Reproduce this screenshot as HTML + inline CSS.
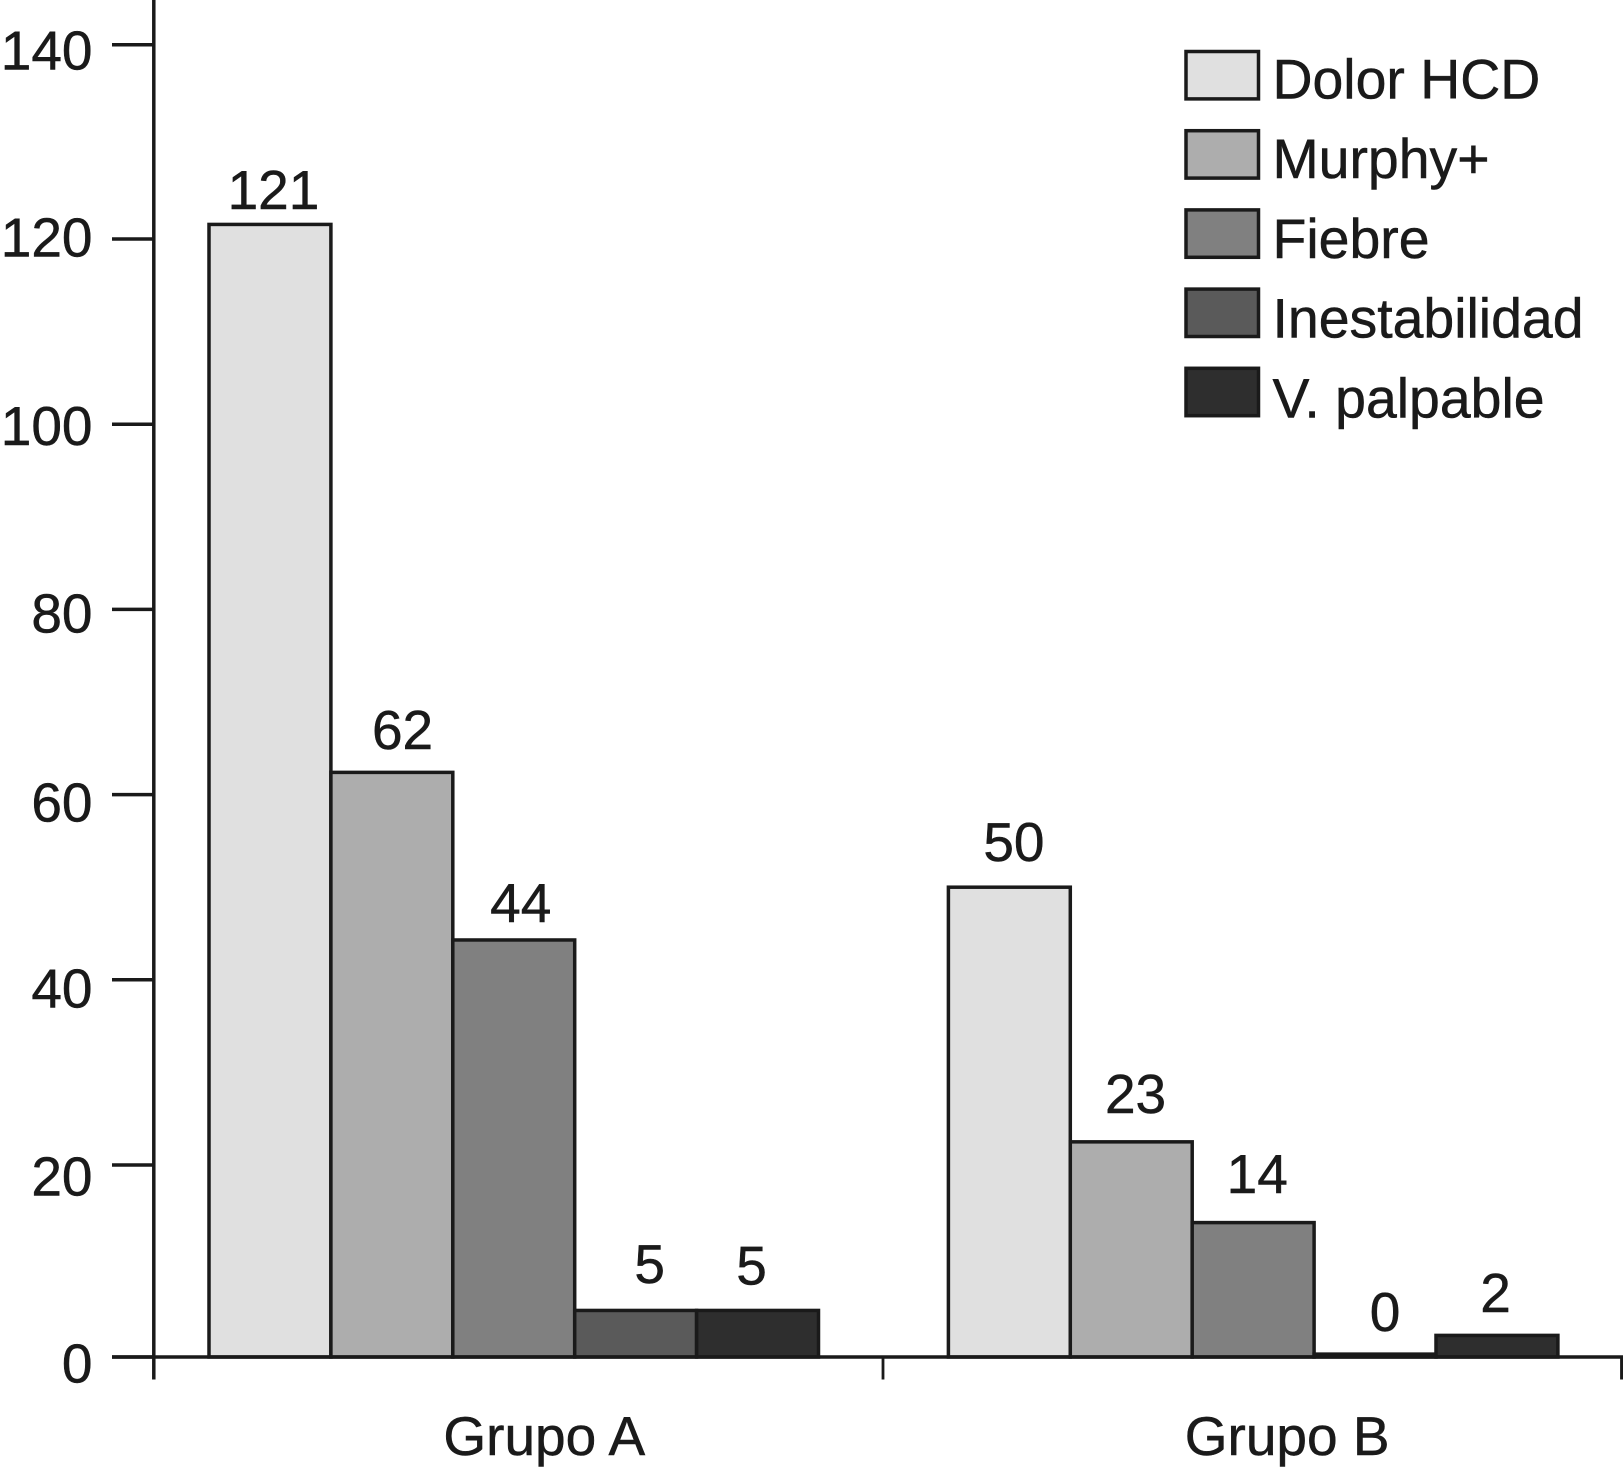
<!DOCTYPE html>
<html lang="es">
<head>
<meta charset="utf-8">
<title>Grupo A y Grupo B</title>
<style>
html,body{margin:0;padding:0;background:#fff;}
svg{display:block;}
text{font-family:"Liberation Sans",Arial,sans-serif;font-size:55px;fill:#1a1a1a;stroke:#1a1a1a;stroke-width:0.5px;}
</style>
</head>
<body>
<svg id="chart" xmlns="http://www.w3.org/2000/svg" width="1623" height="1473" viewBox="0 0 1623 1473"></svg>
<script>
// ---- chart data ----
const categories = ["Grupo A", "Grupo B"];
const seriesNames = ["Dolor HCD", "Murphy+", "Fiebre", "Inestabilidad", "V. palpable"];
const dolorHcdValues = [121.5, 50];
const murphyValues = [62.4, 22.5];
const fiebreValues = [44.3, 14];
const inestabilidadValues = [4.85, 0.3];
const vPalpableValues = [4.85, 2.25];
const printedDolorHcd = ["121", "50"];
const printedMurphy = ["62", "23"];
const printedFiebre = ["44", "14"];
const printedInestabilidad = ["5", "0"];
const printedVPalpable = ["5", "2"];
const yTicks = [0, 20, 40, 60, 80, 100, 120, 140];
const yTickLabels = ["0", "20", "40", "60", "80", "100", "120", "140"];

// ---- layout and style (not data) ----
const seriesValues = [dolorHcdValues, murphyValues, fiebreValues, inestabilidadValues, vPalpableValues];
const seriesPrinted = [printedDolorHcd, printedMurphy, printedFiebre, printedInestabilidad, printedVPalpable];
const INK = "#1a1a1a";
const LINE_W = 3.5;
const fills = { 0: "#e0e0e0", 1: "#adadad", 2: "#808080", 3: "#5a5a5a", 4: "#2e2e2e" };
const slugs = { 0: "dolor-hcd", 1: "murphy", 2: "fiebre", 3: "inestabilidad", 4: "v-palpable" };
const AXIS_X = 153.8, BASE_Y = 1357, TICK_BOTTOM = 1379.5;
const GROUP_A_START = 209, GROUP_B_START = 948.4, BAR_W = 121.9;
// the printed axis is slightly uneven at both ends, so the y scale has three segments
function yScale(v) {
  if (v <= 20) return BASE_Y - v * 9.6;
  if (v <= 120) return 1165 - (v - 20) * 9.26;
  return 239 - (v - 120) * 9.715;
}
function barX(group, series) { return (group === 0 ? GROUP_A_START : GROUP_B_START) + series * BAR_W; }
// hand placement of text in the original artwork: "group-series": [dx, dy]
const labelNudge = {
  "0-0": [3.5, -15.3], "0-1": [10.7, -23.3], "0-2": [7, -17.8], "0-3": [14, -27.2], "0-4": [-6, -26],
  "1-0": [4.6, -26.2], "1-1": [4.3, -28.8], "1-2": [4.1, -29.5], "1-3": [10, -23], "1-4": [-1.4, -23.5]
};
const tickLabelDy = { 0: 25.3, 20: 30.7, 40: 27.6, 60: 26.7, 80: 23, 100: 21, 120: 17.7, 140: 24.6 };
const categoryCenterDx = { 0: 30.5, 1: 34 };

const svg = document.getElementById("chart");
const NS = "http://www.w3.org/2000/svg";
function make(tag, attrs, parent) {
  const el = document.createElementNS(NS, tag);
  for (const k in attrs) el.setAttribute(k, attrs[k]);
  parent.appendChild(el);
  return el;
}

// bars
const barsLayer = make("g", {}, svg);


categories.forEach(function (cat, g) {
  seriesValues.forEach(function (vals, s) {
    const top = yScale(vals[g]);
    const rect = make("rect", {
      x: barX(g, s), y: top, width: BAR_W, height: Math.max(0, BASE_Y - top),
      fill: fills[s], stroke: INK, "stroke-width": LINE_W
    }, barsLayer);
    
    
  });
});

// value labels
categories.forEach(function (cat, g) {
  seriesValues.forEach(function (vals, s) {
    const n = labelNudge[g + "-" + s];
    const t = make("text", {
      x: barX(g, s) + BAR_W / 2 + n[0], y: yScale(vals[g]) + n[1], "text-anchor": "middle"
    }, svg);
    t.textContent = seriesPrinted[s][g];
    
    
  });
});

// y axis
const yAxisLine = make("line", { x1: AXIS_X, y1: 0, x2: AXIS_X, y2: TICK_BOTTOM, stroke: INK, "stroke-width": LINE_W }, svg);


yTicks.forEach(function (v, i) {
  const y = yScale(v);
  const tick = make("line", { x1: 112, y1: y, x2: AXIS_X, y2: y, stroke: INK, "stroke-width": LINE_W }, svg);
  
  
  const lab = make("text", { x: 92.5, y: y + tickLabelDy[v], "text-anchor": "end" }, svg);
  lab.textContent = yTickLabels[i];
  
  
});

// x axis
const xAxisLine = make("line", { x1: 112, y1: BASE_Y, x2: 1623, y2: BASE_Y, stroke: INK, "stroke-width": LINE_W }, svg);


const midTick = make("line", { x1: 883, y1: BASE_Y, x2: 883, y2: TICK_BOTTOM, stroke: INK, "stroke-width": 2.8 }, svg);


const endTick = make("line", { x1: 1621.6, y1: BASE_Y, x2: 1621.6, y2: TICK_BOTTOM, stroke: INK, "stroke-width": 3 }, svg);


categories.forEach(function (cat, g) {
  const groupCenter = barX(g, 0) + BAR_W * seriesNames.length / 2;
  const t = make("text", { x: groupCenter + categoryCenterDx[g], y: 1455, "text-anchor": "middle" }, svg);
  t.textContent = cat;
  
  
});

// legend
const legend = make("g", {}, svg);


seriesNames.forEach(function (name, s) {
  const rowY = 51.5 + s * 79.2;
  const entry = make("g", {}, legend);
  
  
  const swatch = make("rect", { x: 1186, y: rowY, width: 72.5, height: 47.4, fill: fills[s], stroke: INK, "stroke-width": LINE_W }, entry);
  
  
  const label = make("text", { x: 1272.5, y: 98.3 + s * 79.75, style: "font-size:55.4px" }, entry);
  label.textContent = name;
  
  
});
</script>
</body>
</html>
